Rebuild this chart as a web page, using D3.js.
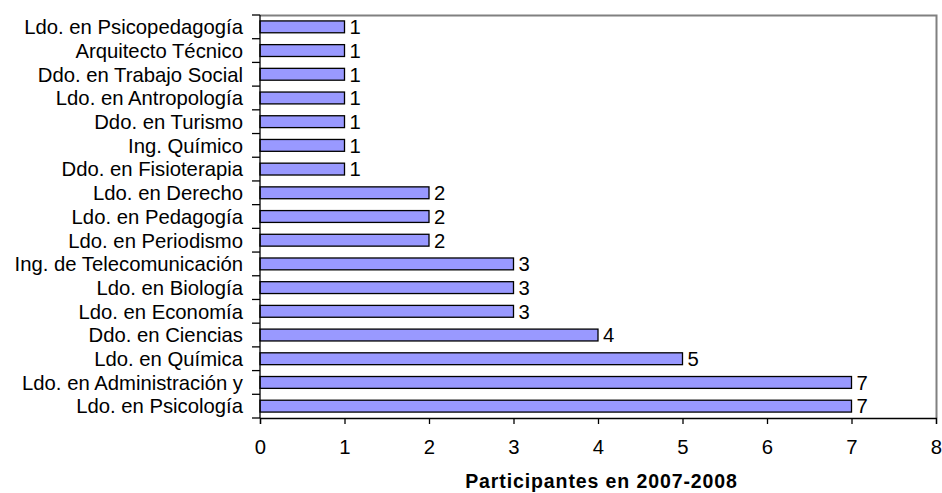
<!DOCTYPE html>
<html>
<head>
<meta charset="utf-8">
<script src="https://cdn.jsdelivr.net/npm/d3@7"></script>
<style>
  body { margin: 0; background: #fff; }
  text { font-family: "Liberation Sans", Arial, sans-serif; fill: #000; }
</style>
</head>
<body>
<div id="chart"></div>
<script>
// categories, top to bottom
let carreras = ["Ldo. en Psicopedagogía", "Arquitecto Técnico", "Ddo. en Trabajo Social",
  "Ldo. en Antropología", "Ddo. en Turismo", "Ing. Químico", "Ddo. en Fisioterapia",
  "Ldo. en Derecho", "Ldo. en Pedagogía", "Ldo. en Periodismo", "Ing. de Telecomunicación",
  "Ldo. en Biología", "Ldo. en Economía", "Ddo. en Ciencias", "Ldo. en Química",
  "Ldo. en Administración y", "Ldo. en Psicología"]
let participantes = [1, 1, 1, 1, 1, 1, 1, 2, 2, 2, 3, 3, 3, 4, 5, 7, 7]
let xTicks = [0, 1, 2, 3, 4, 5, 6, 7, 8]

let svgWidth = 942, svgHeight = 493
let margin = {top: 15, right: 6, bottom: 75, left: 260}

let svg = d3.select("#chart").append("svg")
  .attr("width", svgWidth)
  .attr("height", svgHeight)

let xScale = d3.scaleLinear()
  .domain([0, 8])
  .range([margin.left, svgWidth - margin.right])

let yScale = d3.scaleBand()
  .domain(carreras)
  .range([margin.top, svgHeight - margin.bottom])
  .paddingInner(0.5)
  .paddingOuter(0.25)

// plot area border (top and right, grey)
svg.append("path")
  .attr("d", "M" + xScale(0) + "," + (margin.top + 0.5) + "H" + (xScale(8) + 0.5) + "V" + (svgHeight - margin.bottom))
  .attr("fill", "none")
  .attr("stroke", "#808080")
  .attr("stroke-width", 2)

let data = carreras.map(function(c, i){ return {key: c, value: participantes[i]} })

svg.append("g").selectAll("rect").data(data).enter()
  .append("rect")
  .attr("x", xScale(0))
  .attr("y", function(d){ return yScale(d.key) })
  .attr("width", function(d){ return xScale(d.value) - xScale(0) })
  .attr("height", yScale.bandwidth())
  .style("fill", "#9999ff")
  .style("stroke", "#000")
  .style("stroke-width", 1.3)

// value labels
svg.append("g").selectAll("text").data(data).enter()
  .append("text")
  .attr("x", function(d){ return xScale(d.value) + 5 })
  .attr("y", function(d){ return yScale(d.key) + yScale.bandwidth() / 2 })
  .attr("dy", "0.36em")
  .style("font-size", "20.3px")
  .text(function(d){ return d.value })

// y axis: tick marks at band boundaries
let step = yScale.step()
let y0 = margin.top
let yAxisG = svg.append("g")
yAxisG.append("line")
  .attr("x1", xScale(0)).attr("x2", xScale(0))
  .attr("y1", y0).attr("y2", svgHeight - margin.bottom)
  .attr("stroke", "#000").attr("stroke-width", 1.3)
yAxisG.selectAll(".tk").data(d3.range(carreras.length + 1)).enter()
  .append("line")
  .attr("x1", xScale(0) - 8).attr("x2", xScale(0))
  .attr("y1", function(i){ return y0 + i * step })
  .attr("y2", function(i){ return y0 + i * step })
  .attr("stroke", "#000").attr("stroke-width", 1.3)
yAxisG.selectAll("text").data(carreras).enter()
  .append("text")
  .attr("x", xScale(0) - 17)
  .attr("y", function(d){ return yScale(d) + yScale.bandwidth() / 2 })
  .attr("dy", "0.36em")
  .attr("text-anchor", "end")
  .style("font-size", "20.3px")
  .text(function(d){ return d })

// x axis
let xAxis = d3.axisBottom(xScale).tickValues(xTicks).tickSize(6).tickPadding(16)
let xAxisG = svg.append("g")
  .attr("transform", "translate(0," + (svgHeight - margin.bottom) + ")")
  .call(xAxis)
xAxisG.select(".domain").attr("stroke-width", 1.3)
xAxisG.selectAll(".tick line").attr("stroke-width", 1.3)
xAxisG.selectAll("text")
  .style("font-size", "20.3px")
  .style("font-family", "'Liberation Sans', Arial, sans-serif")

svg.append("text")
  .attr("x", (xScale(0) + xScale(8)) / 2 + 3.5)
  .attr("y", 488)
  .attr("text-anchor", "middle")
  .style("font-size", "19.5px")
  .style("font-weight", "bold")
  .style("letter-spacing", "0.9px")
  .text("Participantes en 2007-2008")
</script>
</body>
</html>
